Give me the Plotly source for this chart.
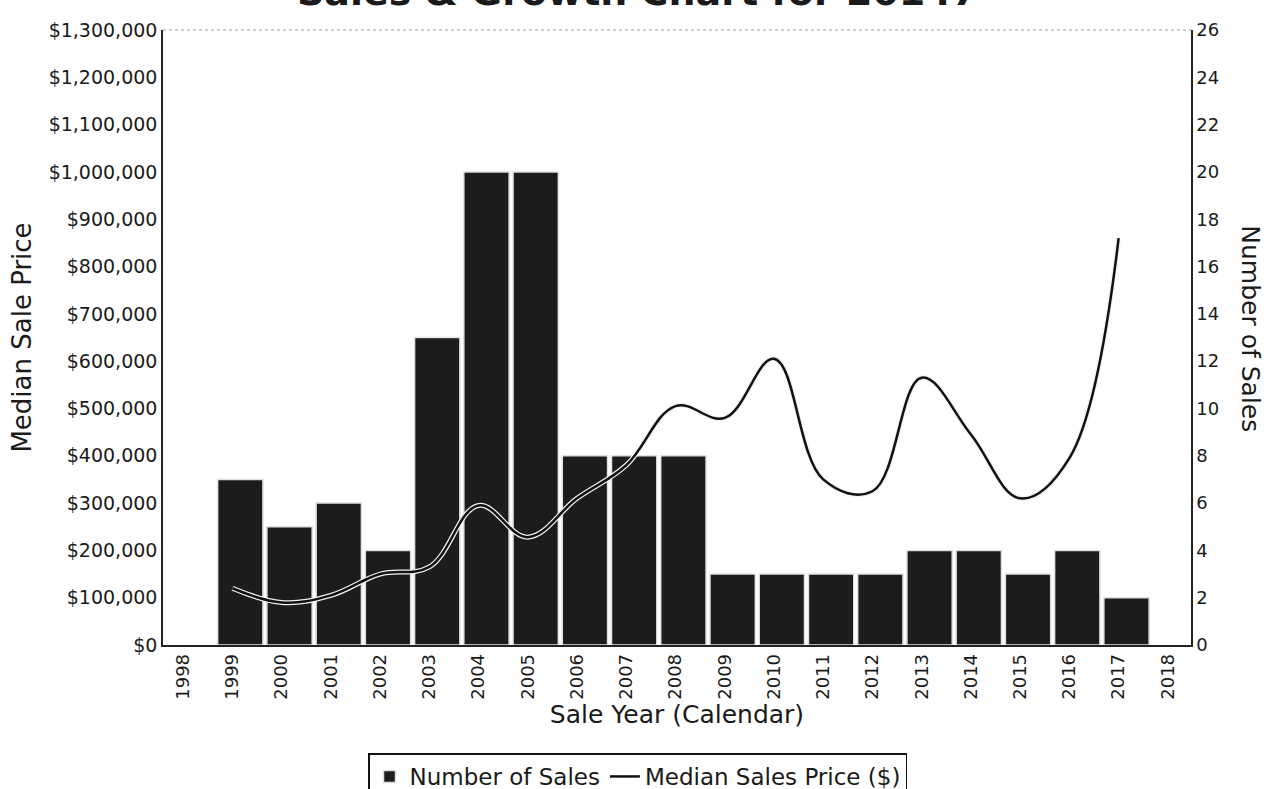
import plotly.graph_objects as go

# ---- data ----
years = [1999, 2000, 2001, 2002, 2003, 2004, 2005, 2006, 2007, 2008,
         2009, 2010, 2011, 2012, 2013, 2014, 2015, 2016, 2017]
number_of_sales = [7, 5, 6, 4, 13, 20, 20, 8, 8, 8,
                   3, 3, 3, 3, 4, 4, 3, 4, 2]
median_price = [120000, 90000, 105000, 150000, 165000, 295000, 228000, 310000, 380000, 505000,
                480000, 605000, 350000, 325000, 565000, 445000, 310000, 395000, 860000]
x_tick_years = list(range(1998, 2019))

title_text = "Sales & Growth Chart for 20147"
font_family = "DejaVu Sans"
ink = "#1a1a1a"

fig = go.Figure()

# bars on the primary axis (shown on the right: Number of Sales)
fig.add_trace(go.Bar(
    x=years, y=number_of_sales, name="Number of Sales",
    width=0.92, offset=-0.30,
    marker=dict(color="#1c1c1c", line=dict(color="#e0e0e0", width=1.5)),
    xaxis="x", yaxis="y",
))

# price line on the overlaying axis (shown on the left), drawn above the bars
fig.add_trace(go.Scatter(
    x=years, y=median_price, mode="lines", showlegend=False, hoverinfo="skip",
    line=dict(color="#f2f2f2", width=5, shape="spline", smoothing=1.1),
    xaxis="x", yaxis="y2",
))
fig.add_trace(go.Scatter(
    x=years, y=median_price, mode="lines", name="Median Sales Price ($)",
    line=dict(color="#111111", width=2.5, shape="spline", smoothing=1.1),
    xaxis="x", yaxis="y2",
))

fig.update_layout(
    width=1275, height=789,
    margin=dict(l=163, r=84, t=30, b=144),
    paper_bgcolor="white", plot_bgcolor="white",
    font=dict(family=font_family, color=ink, size=18),
    showlegend=True,
    legend=dict(
        orientation="h", xref="container", yref="container",
        x=0.5, xanchor="center", y=0.045, yanchor="top",
        bordercolor="#111111", borderwidth=1.5, bgcolor="white",
        font=dict(size=23, family=font_family, color=ink),
        itemwidth=30, traceorder="normal",
    ),
    xaxis=dict(
        range=[1997.59, 2018.47],
        tickmode="array", tickvals=x_tick_years,
        ticktext=[str(y) for y in x_tick_years],
        tickangle=-90, showgrid=False, zeroline=False,
        showline=True, linecolor="#222222", linewidth=1.5,
        ticks="", tickfont=dict(size=18),
        title=dict(text="Sale Year (Calendar)", font=dict(size=25), standoff=6),
    ),
    yaxis=dict(
        range=[0, 26], dtick=2, side="right",
        showgrid=False, zeroline=False,
        showline=True, linecolor="#222222", linewidth=1.5,
        ticks="", tickfont=dict(size=18),
    ),
    yaxis2=dict(
        range=[0, 1300000], dtick=100000, tickprefix="$", tickformat=",d",
        overlaying="y", side="left",
        showgrid=False, zeroline=False,
        showline=True, linecolor="#222222", linewidth=1.5,
        ticks="", tickfont=dict(size=19),
        title=dict(text="Median Sale Price", font=dict(size=26), standoff=10),
    ),
)

# faint dotted top border of the plot area
fig.add_shape(type="line", xref="paper", yref="paper", x0=0, x1=1, y0=1, y1=1,
              line=dict(color="#9a9a9a", width=1, dash="dot"))

# right axis title (reads top to bottom)
fig.add_annotation(text="Number of Sales", xref="paper", yref="paper",
                   x=1.0, xshift=60, xanchor="center", y=0.515, yanchor="middle",
                   textangle=90, showarrow=False,
                   font=dict(size=25, family=font_family, color=ink))

# title, cut off at the top edge of the page as in the reference
fig.add_annotation(text="<b>" + title_text + "</b>", xref="paper", yref="paper",
                   x=0.5, xshift=-40, y=1.0, yshift=38, yanchor="middle",
                   showarrow=False,
                   font=dict(size=38, family=font_family, color=ink))

fig.write_html("out.html")
